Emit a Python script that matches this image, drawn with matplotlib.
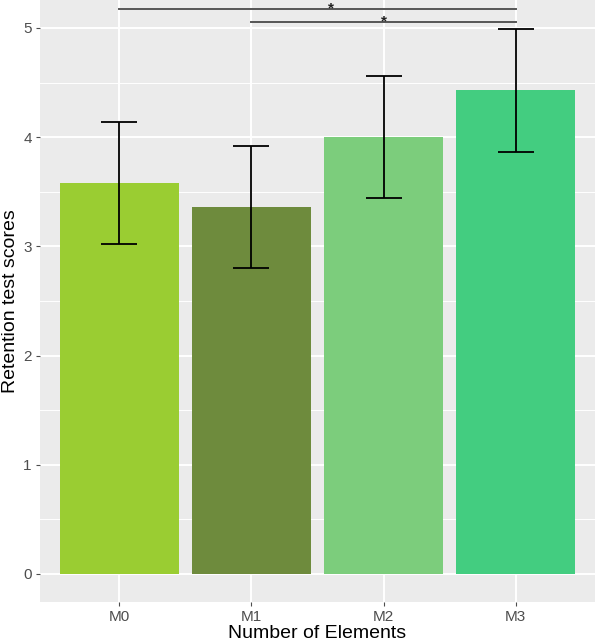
import matplotlib.pyplot as plt
import numpy as np

plt.rcParams["font.family"] = ["Liberation Sans", "DejaVu Sans"]

# data
groups = ["M0", "M1", "M2", "M3"]
means = [3.58, 3.36, 4.0, 4.43]
errors = [0.56, 0.56, 0.56, 0.565]
colors = ["#9ACD32", "#6E8B3D", "#7CCD7C", "#43CD80"]

# significance brackets: (from group, to group, height, label)
sig_pairs = [(0, 3, 5.17, "*"), (1, 3, 5.05, "*")]
sig_label_x = [1.6, 2.0]

fig = plt.figure(figsize=(5.97, 6.44), dpi=100)
ax = fig.add_axes([0.067, 0.0657, 0.9296, 0.9343])
ax.set_facecolor("#EBEBEB")

x = np.arange(len(groups))

# grid (ggplot style)
for yv in np.arange(0.5, 5.5, 1.0):
    ax.axhline(yv, color="white", lw=0.7, zorder=0)
for yv in range(0, 6):
    ax.axhline(yv, color="white", lw=1.4, zorder=0)
for xv in x:
    ax.axvline(xv, color="white", lw=1.4, zorder=0)

ax.bar(x, means, width=0.9, color=colors, zorder=2)
ax.errorbar(x, means, yerr=errors, fmt="none", ecolor="black",
            elinewidth=1.3, capsize=13, capthick=1.3, zorder=3)

for (a, b, h, lab), sx in zip(sig_pairs, sig_label_x):
    ax.plot([a, b], [h, h], color="#555555", lw=1.4, zorder=3)
    ax.text(sx, h + 0.012, lab, ha="center", va="center", fontsize=11,
            color="#222222", fontweight="bold", zorder=3)

ax.set_xlim(-0.6, 3.6)
ax.set_ylim(-0.254, 5.256)
ax.set_xticks(x)
ax.set_xticklabels(groups)
ax.set_yticks(range(0, 6))

for s in ax.spines.values():
    s.set_visible(False)
ax.tick_params(axis="both", colors="#4D4D4D", labelcolor="#4D4D4D",
               labelsize=11, length=3, width=0.8, pad=3)

ax.set_xlabel("Number of Elements", fontsize=14, labelpad=1)
ax.set_ylabel("Retention test scores", fontsize=14, labelpad=3)

fig.savefig("out.png", dpi=100)
